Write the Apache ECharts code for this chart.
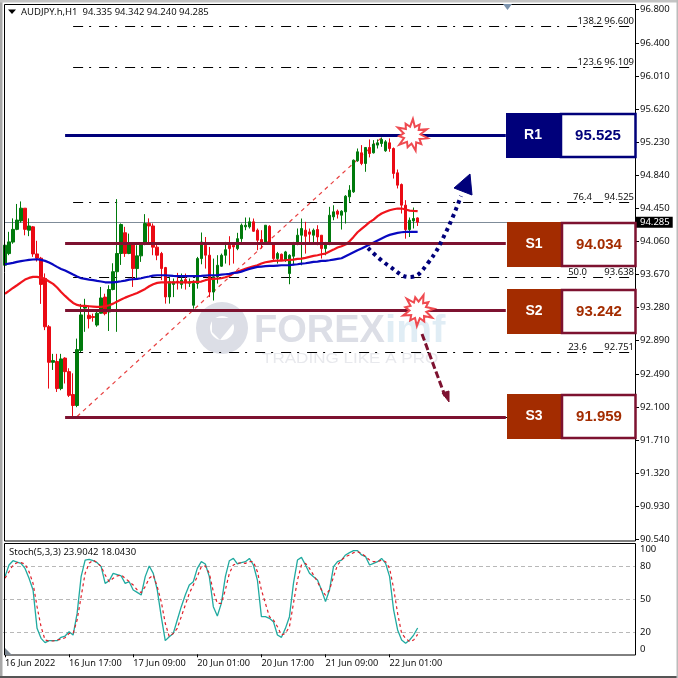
<!DOCTYPE html>
<html><head><meta charset="utf-8">
<style>html,body{margin:0;padding:0;background:#fff}#c{width:678px;height:678px}</style>
<script src="https://cdn.jsdelivr.net/npm/echarts@6/dist/echarts.min.js"></script>
</head><body><div id="c"></div>
<script>
const opens=[93.777,93.914,94.05,94.20,94.30,94.45,94.19,94.23,93.91,93.86,93.62,93.05,92.63,92.64,92.32,92.68,92.52,92.25,92.12,92.77,93.27,93.186,93.17,93.07,93.21,93.40,93.225,93.49,93.70,93.915,94.16,93.915,94.04,93.737,93.887,94.03,94.27,94.24,93.99,93.915,93.749,93.402,93.55,93.588,93.55,93.607,93.564,93.304,93.56,93.855,94.013,93.895,93.46,93.64,93.765,93.894,94.013,94.013,93.973,94.09,94.23,94.23,94.289,94.19,94.08,94.052,94.237,94.033,93.855,93.906,93.835,93.678,93.883,94.032,94.131,94.19,94.17,94.131,94.198,94.131,93.973,94.032,94.348,94.415,94.367,94.407,94.584,94.643,95.01,95.104,94.978,95.167,95.104,95.195,95.214,95.128,95.222,95.155,94.868,94.73,94.486,94.198,94.30,94.335];
const closes=[94.013,94.052,94.20,94.31,94.45,94.20,94.24,93.91,93.86,93.55,93.05,92.63,92.65,92.32,92.67,92.52,92.24,92.12,92.78,93.19,93.30,93.146,93.16,93.21,93.39,93.205,93.49,93.70,93.915,94.257,93.915,94.03,93.737,93.887,94.03,94.269,94.24,93.99,93.895,93.737,93.402,93.58,93.58,93.572,93.60,93.568,93.58,93.56,93.855,94.05,93.895,93.46,93.64,93.776,93.894,93.96,93.973,93.993,94.09,94.249,94.249,94.289,94.178,94.072,94.033,94.249,94.052,93.855,93.914,93.835,93.934,93.894,94.032,94.131,94.21,94.119,94.143,94.19,94.111,93.973,94.032,94.367,94.407,94.379,94.415,94.592,94.663,95.017,95.116,94.978,95.167,95.096,95.207,95.222,95.262,95.234,95.155,94.86,94.722,94.486,94.198,94.308,94.328,94.285];
const lows=[93.737,93.895,94.03,94.19,94.28,94.13,94.12,93.875,93.82,93.32,93.01,92.32,92.54,92.28,92.30,92.38,92.22,91.98,92.10,92.75,92.99,93.03,93.11,93.05,93.205,93.185,93.00,93.48,92.99,93.78,93.875,93.907,93.52,93.62,93.816,94.013,94.05,93.895,93.836,93.60,93.323,93.323,93.40,93.489,93.50,93.489,93.52,93.264,93.50,93.788,93.737,93.40,93.36,93.56,93.757,93.796,93.776,93.796,93.954,94.052,94.19,94.21,94.17,93.954,93.973,94.033,94.033,93.816,93.796,93.828,93.816,93.552,93.776,94.013,93.776,93.914,94.04,94.033,94.013,93.855,93.894,94.013,94.308,94.328,94.198,94.269,94.525,94.631,94.998,94.958,94.88,95.05,95.096,95.155,95.175,95.116,95.116,94.80,94.683,94.387,94.09,94.11,94.21,94.24];
const highs=[94.052,94.171,94.33,94.50,94.53,94.45,94.33,94.24,94.065,93.875,93.68,93.07,92.73,92.73,92.73,92.69,92.56,92.50,92.91,93.32,93.38,93.30,93.205,93.245,93.52,93.44,93.54,93.80,94.557,94.27,94.23,94.15,94.05,94.013,94.05,94.38,94.33,94.27,94.05,93.934,93.757,93.64,93.62,93.686,93.678,93.678,93.62,93.60,93.875,94.163,94.11,93.993,93.855,93.895,93.914,94.052,94.119,94.013,94.159,94.269,94.34,94.34,94.328,94.21,94.19,94.249,94.249,94.033,93.934,93.914,93.946,93.906,94.052,94.21,94.328,94.289,94.21,94.21,94.249,94.131,94.052,94.466,94.485,94.434,94.426,94.604,94.722,95.025,95.155,95.195,95.167,95.262,95.254,95.262,95.285,95.254,95.274,95.167,94.907,94.742,94.545,94.34,94.458,94.342];
const maFast=[93.44,93.473,93.508,93.54,93.575,93.607,93.627,93.639,93.639,93.631,93.615,93.584,93.556,93.513,93.461,93.414,93.371,93.331,93.308,93.296,93.296,93.292,93.288,93.284,93.284,93.292,93.304,93.323,93.347,93.371,93.394,93.414,93.43,93.449,93.473,93.497,93.528,93.552,93.568,93.575,93.575,93.575,93.575,93.575,93.575,93.575,93.575,93.58,93.58,93.584,93.6,93.611,93.615,93.619,93.623,93.634,93.65,93.682,93.701,93.717,93.733,93.749,93.765,93.776,93.796,93.812,93.82,93.828,93.831,93.831,93.835,93.839,93.843,93.851,93.855,93.863,93.875,93.887,93.894,93.906,93.914,93.938,93.961,93.985,94.001,94.021,94.06,94.111,94.166,94.206,94.245,94.285,94.316,94.356,94.387,94.407,94.426,94.438,94.446,94.446,94.434,94.422,94.418,94.415];
const maSlow=[93.788,93.796,93.804,93.816,93.824,93.832,93.84,93.844,93.847,93.84,93.828,93.808,93.784,93.757,93.733,93.713,93.69,93.666,93.643,93.623,93.615,93.607,93.6,93.591,93.584,93.575,93.575,93.575,93.58,93.587,93.595,93.607,93.611,93.615,93.623,93.635,93.643,93.654,93.658,93.658,93.658,93.654,93.65,93.647,93.647,93.647,93.647,93.647,93.647,93.65,93.654,93.658,93.658,93.658,93.666,93.67,93.674,93.686,93.69,93.701,93.717,93.733,93.745,93.757,93.761,93.765,93.768,93.768,93.772,93.776,93.776,93.776,93.784,93.788,93.796,93.8,93.808,93.816,93.82,93.828,93.828,93.835,93.843,93.851,93.859,93.883,93.906,93.93,93.954,93.973,93.997,94.021,94.044,94.068,94.092,94.115,94.135,94.147,94.159,94.166,94.17,94.17,94.17,94.17];
const stochMain=[70.6,81.2,85.1,83.9,82.7,78.1,69.1,58.5,23.6,14.5,10.6,12.4,12.4,12.4,15.4,16.6,20.6,17.5,37.2,70.6,85.7,86.3,85.1,83.3,79.7,64.5,66.9,73.6,72.4,71.2,64.5,66,58.5,56.3,53.9,70.6,80.3,73.6,58.5,34.2,12.4,16,19,31.2,43.3,53.9,63,66,78.1,84.2,82.1,70.6,43.3,34.8,46.3,70.6,85.1,87.2,82.1,83.3,84.2,87.2,81.2,67.5,34.2,34.2,32.7,29.7,17.5,15.4,23.6,34.2,64.5,85.7,88.1,81.2,73.6,70.6,67.5,58.5,47.9,58.5,79.7,84.2,85.7,90.3,92.4,94.2,94.2,90.3,88.8,81.2,82.7,84.2,87.2,82.7,70.6,40.3,22.1,13,10,13,17.5,23.9042];
const stochSignal=[69.1,75.1,81.2,83.3,83.3,82.1,75.1,64.5,43.3,25.1,13,12.1,12.1,13,13.6,15.1,19,19,31.2,52.4,73.6,82.7,85.7,83.3,79.7,72.1,66,69.1,71.2,72.1,69.1,66,63,58.5,56,61.5,69.1,72.1,61.5,47.9,28.2,16,19,23.6,34.2,44.8,55.4,63,70.6,79.7,80.3,73.6,56.9,46.3,46.3,58.5,73.6,81.2,82.7,83.3,82.7,84.2,84.2,75.1,58.5,46.3,34.2,31.2,25.1,17.5,19,25.1,46.3,67.5,81.2,82.7,78.1,72.1,66,58.5,53.9,58.5,70.6,81.2,85.7,88.8,90.3,92.4,93.3,91.8,88.8,85.7,84.2,84.2,85.7,84.2,78.1,60,37.2,19,14.5,11.5,13,18.043];
const tickLabels=['16 Jun 2022','16 Jun 17:00','17 Jun 09:00','20 Jun 01:00','20 Jun 17:00','21 Jun 09:00','22 Jun 01:00'];
const priceTicks=[96.8,96.4,96.01,95.62,95.23,94.84,94.45,94.06,93.67,93.28,92.89,92.49,92.1,91.71,91.32,90.93,90.54];
const stochTicks=[0,20,50,80,100];
const stochLevels=[20,50,80];
const supportResistance=[['R1','95.525',95.313],['S1','94.034',94.034],['S2','93.242',93.242],['S3','91.959',91.98]];
const fibLevels=[['138.2','96.600',96.6,' '],['123.6','96.109',96.109,' '],['76.4','94.525',94.525,'     '],['50.0','93.638',93.638,'       '],['23.6','92.751',92.751,'       '],['','',91.98,'']];
const currentPrice=94.285;
const trendFrom=[18,91.99], trendTo=[94,95.285];

const SLOTS=158, STEP=16;
const categories=Array.from({length:SLOTS},(_,i)=>i%STEP===0&&tickLabels[i/STEP]?tickLabels[i/STEP]:'');
const candles=opens.map((o,i)=>[o,closes[i],lows[i],highs[i]]);
const FONT='"Noto Sans",sans-serif', FS=9.5;
const NAVY='#00007a', MAROON='#7d1230', RUST='#a32c00';

const chart=echarts.init(document.getElementById('c'),null,{renderer:'canvas',width:678,height:678});

const levelLines=supportResistance.map(l=>[
 {coord:[15,l[2]],lineStyle:{color:l[0]==='R1'?NAVY:MAROON,width:3,type:'solid'},label:{show:false}},
 {coord:[125,l[2]]}]);
const fibLines=fibLevels.map(f=>[
 {coord:[17,f[2]],lineStyle:{color:'#000',width:1.2,type:[10,6,2,8]},
  label:{show:!!f[0],position:'insideEndTop',formatter:f[0]+f[3]+f[1],color:'#111',fontSize:FS,fontFamily:FONT,distance:0}},
 {coord:[SLOTS-1,f[2]]}]);
const trendLine=[[{coord:trendFrom,lineStyle:{color:'#e84040',width:1.2,type:[4,4]},label:{show:false}},{coord:trendTo}]];
const priceLine=[[{coord:[0,currentPrice],lineStyle:{color:'#7f8c99',width:1,type:'solid'},
  label:{show:true,position:'end',formatter:currentPrice.toFixed(3),backgroundColor:'#000',color:'#fff',fontSize:FS,fontFamily:FONT,padding:[1,3,0,4],distance:2}},{coord:[SLOTS-1,currentPrice]}]];

function burst(cx,cy,seed){
 const pts=[],n=11;
 for(let k=0;k<n*2;k++){const r=k%2===0?(k%4===0?16:13):8.5;const a=k/(n*2)*Math.PI*2+seed;pts.push([cx+r*Math.cos(a),cy+r*Math.sin(a)]);}
 return {type:'polygon',z:60,shape:{points:pts},style:{fill:'#fff',stroke:'#ef4a50',lineWidth:2}};
}
const graphics=[];
graphics.push({type:'rect',z:0,shape:{x:0,y:0,width:2.5,height:678},style:{fill:'#a8a8a8'}});
graphics.push({type:'rect',z:0,shape:{x:0,y:0,width:678,height:2.5},style:{fill:'#c4c4c4'}});
graphics.push({type:'rect',z:0,shape:{x:0,y:676,width:678,height:2},style:{fill:'#555'}});
graphics.push({type:'rect',z:0,shape:{x:676.5,y:0,width:1.5,height:678},style:{fill:'#bbb'}});
// watermark
graphics.push({type:'ring',z:1,shape:{cx:222,cy:328,r:26,r0:12},style:{fill:'#dcdee6'}});
graphics.push({type:'polygon',z:1,shape:{points:[[212,318],[238,318],[220,340],[212,332]]},style:{fill:'#dcdee6'}});
graphics.push({type:'text',z:1,x:254,y:332,style:{x:0,y:0,text:'FOREX',fill:'#dcdee6',font:'bold 38px "Liberation Sans"',textAlign:'left',textVerticalAlign:'middle'}});
graphics.push({type:'text',z:1,x:385,y:332,scaleX:1.06,style:{x:0,y:0,text:'imf',fill:'#e0edf5',font:'bold 38px "Liberation Sans"',textAlign:'left',textVerticalAlign:'middle'}});
graphics.push({type:'text',z:1,x:262,y:358.5,scaleX:1.1,style:{x:0,y:0,text:'TRADING LIKE A PRO',fill:'#e8e9ed',font:'15.5px "Liberation Sans"',textAlign:'left',textVerticalAlign:'middle'}});
// frames
[[4.5,4.5,631,536.5],[4.5,543.5,631,111.5]].forEach(r=>graphics.push({type:'rect',z:30,shape:{x:r[0],y:r[1],width:r[2],height:r[3]},style:{fill:'none',stroke:'#000',lineWidth:1}}));
graphics.push({type:'polygon',z:31,shape:{points:[[503,4],[512,4],[507.5,10]]},style:{fill:'#7c93ad'}});
graphics.push({type:'polygon',z:31,shape:{points:[[5,648],[5,655],[12,655]]},style:{fill:'#7a8590'}});
graphics.push({type:'polygon',z:31,shape:{points:[[8,9.5],[16,9.5],[12,14]]},style:{fill:'#000'}});
graphics.push({type:'text',z:31,style:{x:21,y:12.5,text:'AUDJPY.h,H1  94.335 94.342 94.240 94.285',fill:'#111',font:FS+'px "Noto Sans"',textVerticalAlign:'middle'}});
graphics.push({type:'text',z:31,style:{x:9,y:552.5,text:'Stoch(5,3,3) 23.9042 18.0430',fill:'#111',font:FS+'px "Noto Sans"',textVerticalAlign:'middle'}});
const boxTop={R1:113,S1:222,S2:289,S3:394};
supportResistance.forEach(l=>{
 const y=boxTop[l[0]],r=l[0]==='R1',x=r?506:507,fill=r?NAVY:RUST,bd=r?NAVY:MAROON;
 graphics.push({type:'rect',z:50,shape:{x:x,y:y,width:55,height:45},style:{fill:fill}});
 graphics.push({type:'rect',z:50,shape:{x:x+55,y:y+1,width:635.5-x-55,height:43},style:{fill:'#fff',stroke:bd,lineWidth:2.5}});
 graphics.push({type:'text',z:51,style:{x:x+27,y:y+22.5,text:l[0],fill:'#fff',font:'bold 14px "Liberation Sans"',textAlign:'center',textVerticalAlign:'middle'}});
 graphics.push({type:'text',z:51,style:{x:x+92,y:y+22.5,text:l[1],fill:r?NAVY:RUST,font:'bold 15px "Liberation Sans"',textAlign:'center',textVerticalAlign:'middle'}});
});
graphics.push(burst(412,135,0.2));
graphics.push(burst(418,310,0.5));
graphics.push({type:'polyline',z:45,shape:{smooth:0.45,points:[[368,248],[389,266],[411,277],[428,263],[446,232],[461,196]]},style:{fill:'none',stroke:NAVY,lineWidth:4,lineDash:[3.5,4]}});
graphics.push({type:'polygon',z:45,shape:{points:[[470,174],[454,188],[472,195]]},style:{fill:NAVY,stroke:NAVY,lineWidth:1}});
graphics.push({type:'line',z:45,shape:{x1:422,y1:334,x2:445,y2:396},style:{stroke:MAROON,lineWidth:3,lineDash:[7,3]}});
graphics.push({type:'polygon',z:45,shape:{points:[[449,402],[442,393],[449,391]]},style:{fill:MAROON,stroke:MAROON,lineWidth:1}});

const blankAxis={type:'category',data:categories,gridIndex:0,boundaryGap:true,axisLine:{show:false},axisTick:{show:false},axisLabel:{show:false},splitLine:{show:false}};
chart.setOption({
 animation:false,backgroundColor:'#fff',
 grid:[{left:3,top:4.5,width:633,height:537,containLabel:false},{left:3,top:544.3,width:633,height:110,containLabel:false}],
 xAxis:[blankAxis,{type:'category',data:categories,gridIndex:1,boundaryGap:true,axisLine:{show:false},
  axisTick:{show:true,alignWithLabel:true,length:3,lineStyle:{color:'#000'},interval:(i)=>i%STEP===0&&i/STEP<tickLabels.length},
  axisLabel:{show:true,interval:(i)=>i%STEP===0&&i/STEP<tickLabels.length,align:'left',color:'#111',fontSize:9.2,fontFamily:FONT,margin:5,hideOverlap:false},splitLine:{show:false}}],
 yAxis:[{type:'value',gridIndex:0,position:'right',min:90.514,max:94.06+(241-4.5)/84.6,
   axisLine:{show:false},splitLine:{show:false},
   axisTick:{show:true,length:3,lineStyle:{color:'#000'},customValues:priceTicks},
   axisLabel:{show:true,customValues:priceTicks,formatter:v=>v.toFixed(3),color:'#111',fontSize:FS,fontFamily:FONT,margin:4}},
  {type:'value',gridIndex:1,position:'right',min:0,max:100,
   axisLine:{show:false},splitLine:{show:false},axisTick:{show:false},
   axisLabel:{show:true,customValues:stochTicks,formatter:v=>String(v),color:'#111',fontSize:FS,fontFamily:FONT,margin:4,verticalAlignMinLabel:'bottom',verticalAlignMaxLabel:'top'}}],
 series:[
  {type:'line',xAxisIndex:0,yAxisIndex:0,data:[],z:3,silent:true,markLine:{silent:true,symbol:['none','none'],animation:false,z:1,data:priceLine.concat(fibLines).concat(trendLine)}},
  {type:'candlestick',xAxisIndex:0,yAxisIndex:0,data:candles,barWidth:3,z:4,
   itemStyle:{color:'#007a0c',color0:'#ea0a14',borderColor:'#007a0c',borderColor0:'#ea0a14',borderWidth:1}},
  {type:'line',xAxisIndex:0,yAxisIndex:0,data:maFast,showSymbol:false,z:8,lineStyle:{color:'#f0141c',width:2.2}},
  {type:'line',xAxisIndex:0,yAxisIndex:0,data:maSlow,showSymbol:false,z:9,lineStyle:{color:'#0808c0',width:2.2}},
  {type:'line',xAxisIndex:0,yAxisIndex:0,data:[],z:12,silent:true,markLine:{silent:true,symbol:['none','none'],animation:false,z:12,data:levelLines}},
  {type:'line',xAxisIndex:1,yAxisIndex:1,data:stochMain,showSymbol:false,z:5,lineStyle:{color:'#20aaa0',width:1.3},
   markLine:{silent:true,symbol:['none','none'],animation:false,label:{show:false},lineStyle:{color:'#b8b8b8',type:[4,3],width:1},data:stochLevels.map(v=>({yAxis:v}))}},
  {type:'line',xAxisIndex:1,yAxisIndex:1,data:stochSignal,showSymbol:false,z:6,lineStyle:{color:'#e0202a',width:1.2,type:[3,3]}}
 ],
 graphic:{elements:graphics}
});
</script></body></html>
